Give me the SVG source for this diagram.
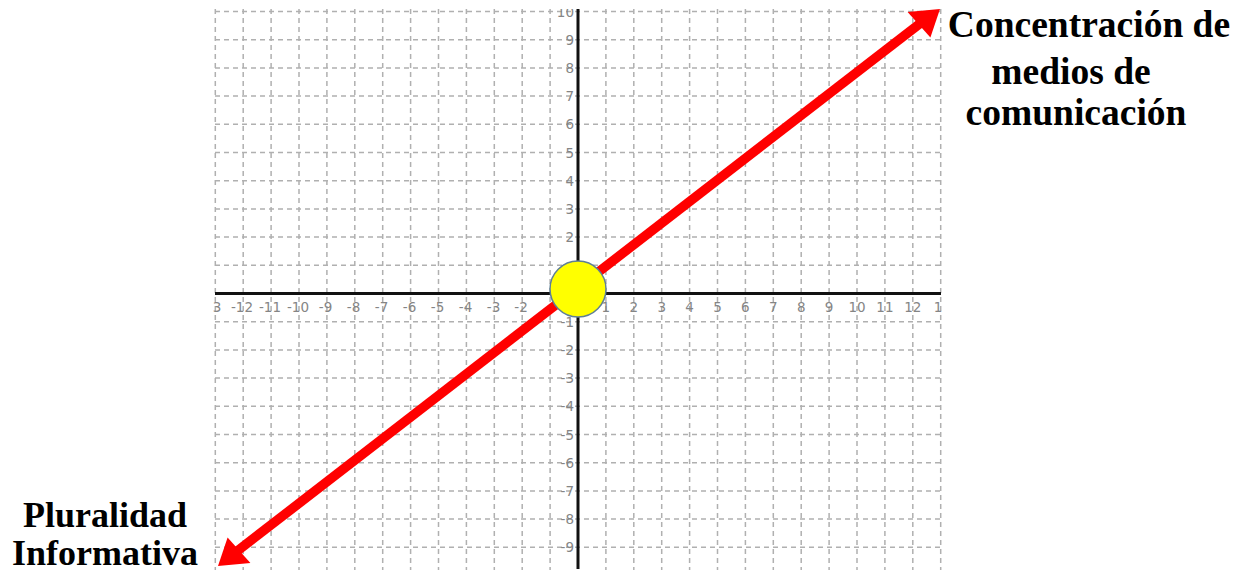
<svg xmlns="http://www.w3.org/2000/svg" width="1243" height="573" viewBox="0 0 1243 573">
<style>
.g{stroke:#b0b0b0;stroke-width:1.5;stroke-dasharray:5 4;fill:none}
.ax{stroke:#111;stroke-width:3;fill:none}
.tx{font-family:"DejaVu Sans",sans-serif;font-size:13.5px;fill:#858585;text-anchor:middle}
.ty{font-family:"DejaVu Sans",sans-serif;font-size:13.5px;fill:#858585;text-anchor:end}
.lbl{font-family:"Liberation Serif","Times New Roman",serif;font-weight:bold;font-size:36px;fill:#000;text-anchor:middle}
.big{font-size:37.5px}
.arr{stroke:#ff0000;stroke-width:9.5;fill:none}
.ah{fill:#ff0000}
</style>
<defs>
<clipPath id="gc"><rect x="213" y="9" width="730" height="561"/></clipPath>
</defs>
<rect width="1243" height="573" fill="#fff"/>
<g id="grid" clip-path="url(#gc)">
<g class="g">
<line x1="215.3" y1="9" x2="215.3" y2="570"/>
<line x1="243.2" y1="9" x2="243.2" y2="570"/>
<line x1="271.1" y1="9" x2="271.1" y2="570"/>
<line x1="299" y1="9" x2="299" y2="570"/>
<line x1="326.9" y1="9" x2="326.9" y2="570"/>
<line x1="354.8" y1="9" x2="354.8" y2="570"/>
<line x1="382.7" y1="9" x2="382.7" y2="570"/>
<line x1="410.6" y1="9" x2="410.6" y2="570"/>
<line x1="438.5" y1="9" x2="438.5" y2="570"/>
<line x1="466.4" y1="9" x2="466.4" y2="570"/>
<line x1="494.3" y1="9" x2="494.3" y2="570"/>
<line x1="522.2" y1="9" x2="522.2" y2="570"/>
<line x1="550.1" y1="9" x2="550.1" y2="570"/>
<line x1="605.9" y1="9" x2="605.9" y2="570"/>
<line x1="633.8" y1="9" x2="633.8" y2="570"/>
<line x1="661.7" y1="9" x2="661.7" y2="570"/>
<line x1="689.6" y1="9" x2="689.6" y2="570"/>
<line x1="717.5" y1="9" x2="717.5" y2="570"/>
<line x1="745.4" y1="9" x2="745.4" y2="570"/>
<line x1="773.3" y1="9" x2="773.3" y2="570"/>
<line x1="801.2" y1="9" x2="801.2" y2="570"/>
<line x1="829.1" y1="9" x2="829.1" y2="570"/>
<line x1="857" y1="9" x2="857" y2="570"/>
<line x1="884.9" y1="9" x2="884.9" y2="570"/>
<line x1="912.8" y1="9" x2="912.8" y2="570"/>
<line x1="940.7" y1="9" x2="940.7" y2="570"/>
<line x1="215" y1="11.5" x2="941" y2="11.5"/>
<line x1="215" y1="39.7" x2="941" y2="39.7"/>
<line x1="215" y1="67.9" x2="941" y2="67.9"/>
<line x1="215" y1="96.1" x2="941" y2="96.1"/>
<line x1="215" y1="124.3" x2="941" y2="124.3"/>
<line x1="215" y1="152.5" x2="941" y2="152.5"/>
<line x1="215" y1="180.7" x2="941" y2="180.7"/>
<line x1="215" y1="208.9" x2="941" y2="208.9"/>
<line x1="215" y1="237.1" x2="941" y2="237.1"/>
<line x1="215" y1="265.3" x2="941" y2="265.3"/>
<line x1="215" y1="321.7" x2="941" y2="321.7"/>
<line x1="215" y1="349.9" x2="941" y2="349.9"/>
<line x1="215" y1="378.1" x2="941" y2="378.1"/>
<line x1="215" y1="406.3" x2="941" y2="406.3"/>
<line x1="215" y1="434.5" x2="941" y2="434.5"/>
<line x1="215" y1="462.7" x2="941" y2="462.7"/>
<line x1="215" y1="490.9" x2="941" y2="490.9"/>
<line x1="215" y1="519.1" x2="941" y2="519.1"/>
<line x1="215" y1="547.3" x2="941" y2="547.3"/>
</g>
<g id="axes" class="ax">
<line x1="215" y1="293.5" x2="941" y2="293.5"/>
<line x1="578" y1="9" x2="578" y2="569"/>
</g>
<g id="xlabels" class="tx">
<text x="217" y="312">3</text>
<text x="242" y="312">-12</text>
<text x="270" y="312">-11</text>
<text x="298" y="312">-10</text>
<text x="325.5" y="312">-9</text>
<text x="353.5" y="312">-8</text>
<text x="381.5" y="312">-7</text>
<text x="409.5" y="312">-6</text>
<text x="437.5" y="312">-5</text>
<text x="465.5" y="312">-4</text>
<text x="493.5" y="312">-3</text>
<text x="521" y="312">-2</text>
<text x="605.9" y="312">1</text>
<text x="633.8" y="312">2</text>
<text x="661.7" y="312">3</text>
<text x="689.6" y="312">4</text>
<text x="717.5" y="312">5</text>
<text x="745.4" y="312">6</text>
<text x="773.3" y="312">7</text>
<text x="801.2" y="312">8</text>
<text x="829.1" y="312">9</text>
<text x="857" y="312">10</text>
<text x="884.9" y="312">11</text>
<text x="912.8" y="312">12</text>
<text x="938" y="312">1</text>
</g>
<g id="ylabels" class="ty">
<text x="574" y="16.5">10</text>
<text x="574" y="44.7">9</text>
<text x="574" y="72.9">8</text>
<text x="574" y="101.1">7</text>
<text x="574" y="129.3">6</text>
<text x="574" y="157.5">5</text>
<text x="574" y="185.7">4</text>
<text x="574" y="213.9">3</text>
<text x="574" y="242.1">2</text>
<text x="574" y="326.7">-1</text>
<text x="574" y="354.9">-2</text>
<text x="574" y="383.1">-3</text>
<text x="574" y="411.3">-4</text>
<text x="574" y="439.5">-5</text>
<text x="574" y="467.7">-6</text>
<text x="574" y="495.9">-7</text>
<text x="574" y="524.1">-8</text>
<text x="574" y="552.3">-9</text>
</g>
</g>
<g id="connectors">
<line class="arr" x1="236" y1="552" x2="922" y2="22"/>
<polygon class="ah" points="940,9 930.4,37.4 907.6,12.1"/>
<polygon class="ah" points="218,566 227.6,537.6 250.4,562.9"/>
</g>
<g id="node-origin">
<circle cx="578" cy="289" r="28" fill="#ffff00" stroke="#5f7f95" stroke-width="1.5"/>
</g>
<g id="node-concentracion" class="lbl big">
<text x="1089" y="37">Concentración de</text>
<text x="1071" y="84">medios de</text>
<text x="1076" y="125">comunicación</text>
</g>
<g id="node-pluralidad" class="lbl">
<text x="105" y="527">Pluralidad</text>
<text x="105" y="565">Informativa</text>
</g>
</svg>
